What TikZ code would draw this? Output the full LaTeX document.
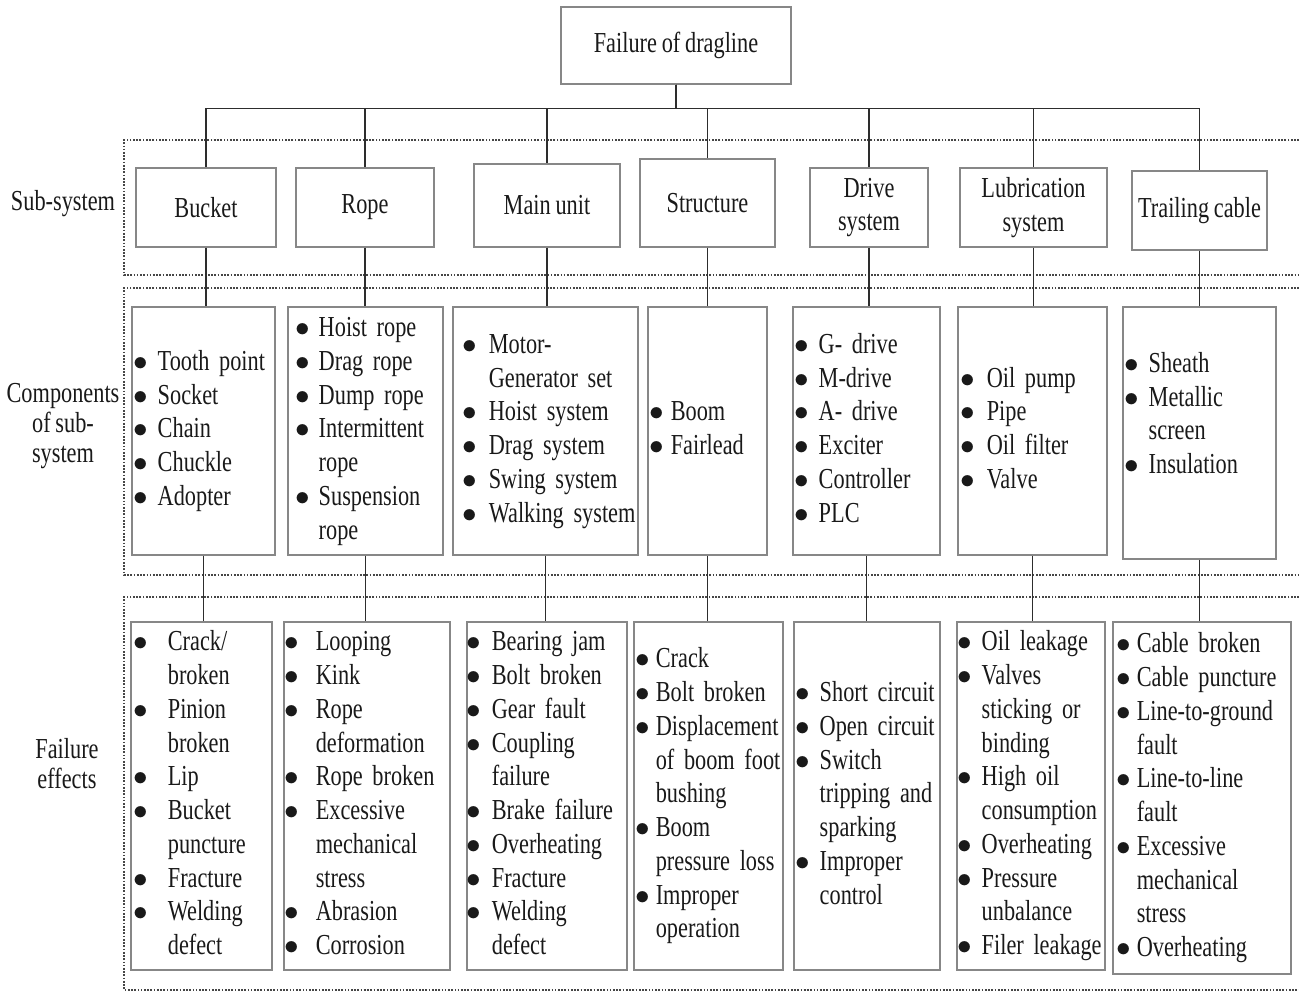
\documentclass[tikz,border=0pt]{standalone}
\usepackage{fontspec}
\setmainfont{Liberation Serif}[FakeStretch=0.77]
\usetikzlibrary{positioning, calc}
\setlength{\parindent}{0pt}
\definecolor{boxgray}{RGB}{135,135,135}
\definecolor{linkgray}{RGB}{45,45,45}
\definecolor{dotgray}{RGB}{70,70,70}
\definecolor{inkblack}{RGB}{25,25,25}
\newcommand{\bul}{\makebox[0.195cm][c]{$\bullet$}}
\newcommand{\blist}[2][9pt]{\begin{tabular}{@{}l@{\hspace{#1}}l@{}}#2\end{tabular}}
\newcommand{\diagfont}[1]{\fontsize{20.6pt}{#1}\selectfont\spaceskip=3.4pt\relax\xspaceskip=3.4pt\relax}

\begin{document}
\begin{tikzpicture}[x=0.025cm, y=-0.025cm, font=\diagfont{24pt}, text=inkblack,
    box/.style={draw=boxgray, line width=0.9pt, inner sep=0pt, align=center},
    listbox/.style={draw=boxgray, line width=0.9pt, inner ysep=0pt, align=left},
    link/.style={draw=linkgray, line width=0.9pt},
    frame/.style={draw=dotgray, line width=1.3pt, dash pattern=on 1.2pt off 1.1pt}]
    \useasboundingbox (0,0) rectangle (1299,993);
    % dotted bands
    \draw[frame] (1299,140) -- (124,140) -- (124,275) -- (1299,275);
    \draw[frame] (1299,288) -- (124,288) -- (124,575) -- (1299,575);
    \draw[frame] (1299,597) -- (124,597) -- (124,990) -- (1299,990);
    % band labels
    \node (lsub) at (63,204) {Sub-system};
    \node[align=center, font=\diagfont{21.3pt}] (lcomp) at (63,426) {Components\\of sub-\\system};
    \node[align=center, font=\diagfont{21.3pt}] (leff) at (67,764) {Failure\\effects};
    % top
    \node[box, minimum width=5.75cm, minimum height=1.925cm] (top) at (676,45.5) {Failure of dragline};
    % sub-systems
    \node[box, minimum width=3.5cm, minimum height=1.975cm] (bucket) at (206,207.5) {Bucket};
    \node[box, minimum width=3.45cm, minimum height=1.975cm] (rope) at (365,207.5) {Rope};
    \node[box, minimum width=3.65cm, minimum height=2.075cm] (mainunit) at (547,205.5) {Main unit};
    \node[box, minimum width=3.375cm, minimum height=2.2cm] (structure) at (707.5,203) {Structure};
    \node[box, minimum width=2.95cm, minimum height=1.975cm] (drive) at (869,207.5) {Drive\\system};
    \node[box, minimum width=3.675cm, minimum height=1.975cm] (lubrication) at (1033.5,207.5) {Lubrication\\system};
    \node[box, minimum width=3.375cm, minimum height=1.975cm] (trailing) at (1199.5,210.5) {Trailing cable};
    % components
    \node[listbox, inner xsep=0.125cm, text width=3.325cm, minimum height=6.2cm] (bucketC) at (203.5,431)
        {\blist[9.2pt]{\bul & Tooth point\\ \bul & Socket\\ \bul & Chain\\ \bul & Chuckle\\ \bul & Adopter}};
    \node[listbox, inner xsep=0.275cm, text width=3.325cm, minimum height=6.2cm] (ropeC) at (365.5,431)
        {\blist[8.5pt]{\bul & Hoist rope\\ \bul & Drag rope\\ \bul & Dump rope\\ \bul & Intermittent\\ & rope\\ \bul & Suspension\\ & rope}};
    \node[listbox, inner xsep=0.325cm, text width=3.975cm, minimum height=6.2cm] (mainunitC) at (545.5,431)
        {\blist[10.7pt]{\bul & Motor-\\ & Generator set\\ \bul & Hoist system\\ \bul & Drag system\\ \bul & Swing system\\ \bul & Walking system}};
    \node[listbox, inner xsep=0.125cm, text width=2.725cm, minimum height=6.2cm] (structureC) at (707.5,431)
        {\blist[7.1pt]{\bul & Boom\\ \bul & Fairlead}};
    \node[listbox, inner xsep=0.125cm, text width=3.425cm, minimum height=6.2cm] (driveC) at (866.5,431)
        {\blist[9.2pt]{\bul & G- drive\\ \bul & M-drive\\ \bul & A- drive\\ \bul & Exciter\\ \bul & Controller\\ \bul & PLC}};
    \node[listbox, inner xsep=0.15cm, text width=3.425cm, minimum height=6.2cm] (lubricationC) at (1032.5,431)
        {\blist[10.7pt]{\bul & Oil pump\\ \bul & Pipe\\ \bul & Oil filter\\ \bul & Valve}};
    \node[listbox, inner xsep=0.125cm, text width=3.575cm, minimum height=6.3cm] (trailingC) at (1199.5,433)
        {\blist[9.2pt]{\bul & Sheath\\ \bul & Metallic\\ & screen\\ \bul & Insulation\\ &}};
    % failure effects
    \node[listbox, inner xsep=0.15cm, text width=3.225cm, minimum height=8.7cm] (bucketF) at (201.5,796)
        {\blist[16.4pt]{\bul & Crack/\\ & broken\\ \bul & Pinion\\ & broken\\ \bul & Lip\\ \bul & Bucket\\ & puncture\\ \bul & Fracture\\ \bul & Welding\\ & defect}};
    \node[listbox, inner xsep=0.1cm, text width=3.95cm, minimum height=8.7cm] (ropeF) at (367,796)
        {\blist[14.2pt]{\bul & Looping\\ \bul & Kink\\ \bul & Rope\\ & deformation\\ \bul & Rope broken\\ \bul & Excessive\\ & mechanical\\ & stress\\ \bul & Abrasion\\ \bul & Corrosion}};
    \node[listbox, inner xsep=0.075cm, text width=3.85cm, minimum height=8.7cm] (mainunitF) at (547,796)
        {\blist[10pt]{\bul & Bearing jam\\ \bul & Bolt broken\\ \bul & Gear fault\\ \bul & Coupling\\ & failure\\ \bul & Brake failure\\ \bul & Overheating\\ \bul & Fracture\\ \bul & Welding\\ & defect}};
    \node[listbox, inner xsep=0.125cm, text width=3.475cm, minimum height=8.7cm] (structureF) at (708.5,796)
        {\blist[6.4pt]{\bul & Crack\\ \bul & Bolt broken\\ \bul & Displacement\\ & of boom foot\\ & bushing\\ \bul & Boom\\ & pressure loss\\ \bul & Improper\\ & operation}};
    \node[listbox, inner xsep=0.125cm, text width=3.4cm, minimum height=8.7cm] (driveF) at (867,796)
        {\blist[9.2pt]{\bul & Short circuit\\ \bul & Open circuit\\ \bul & Switch\\ & tripping and\\ & sparking\\ \bul & Improper\\ & control}};
    \node[listbox, inner xsep=0.1cm, text width=3.5cm, minimum height=8.7cm] (lubricationF) at (1031,796)
        {\blist[9.2pt]{\bul & Oil leakage\\ \bul & Valves\\ & sticking or\\ & binding\\ \bul & High oil\\ & consumption\\ \bul & Overheating\\ \bul & Pressure\\ & unbalance\\ \bul & Filer leakage}};
    \node[listbox, inner xsep=0.175cm, text width=4.1cm, minimum height=8.8cm] (trailingF) at (1202,798)
        {\blist[6.4pt]{\bul & Cable broken\\ \bul & Cable puncture\\ \bul & Line-to-ground\\ & fault\\ \bul & Line-to-line\\ & fault\\ \bul & Excessive\\ & mechanical\\ & stress\\ \bul & Overheating}};
    % tree lines
    \draw[link] (top.south) -- ++(0,24) -| (bucket.north);
    \draw[link] (top.south) -- ++(0,24) -| (rope.north);
    \draw[link] (top.south) -- ++(0,24) -| (mainunit.north);
    \draw[link] (top.south) -- ++(0,24) -| (structure.north);
    \draw[link] (top.south) -- ++(0,24) -| (drive.north);
    \draw[link] (top.south) -- ++(0,24) -| (lubrication.north);
    \draw[link] (top.south) -- ++(0,24) -| (trailing.north);
    \draw[link] (bucket.south) -- (bucket.south |- bucketC.north) (bucketC.south) -- (bucketC.south |- bucketF.north);
    \draw[link] (rope.south) -- (rope.south |- ropeC.north) (ropeC.south) -- (ropeC.south |- ropeF.north);
    \draw[link] (mainunit.south) -- (mainunit.south |- mainunitC.north) (mainunitC.south) -- (mainunitC.south |- mainunitF.north);
    \draw[link] (structure.south) -- (structure.south |- structureC.north) (structureC.south) -- (structureC.south |- structureF.north);
    \draw[link] (drive.south) -- (drive.south |- driveC.north) (driveC.south) -- (driveC.south |- driveF.north);
    \draw[link] (lubrication.south) -- (lubrication.south |- lubricationC.north) (lubricationC.south) -- (lubricationC.south |- lubricationF.north);
    \draw[link] (trailing.south) -- (trailing.south |- trailingC.north) (trailingC.south) -- (trailingC.south |- trailingF.north);
\end{tikzpicture}
\end{document}
